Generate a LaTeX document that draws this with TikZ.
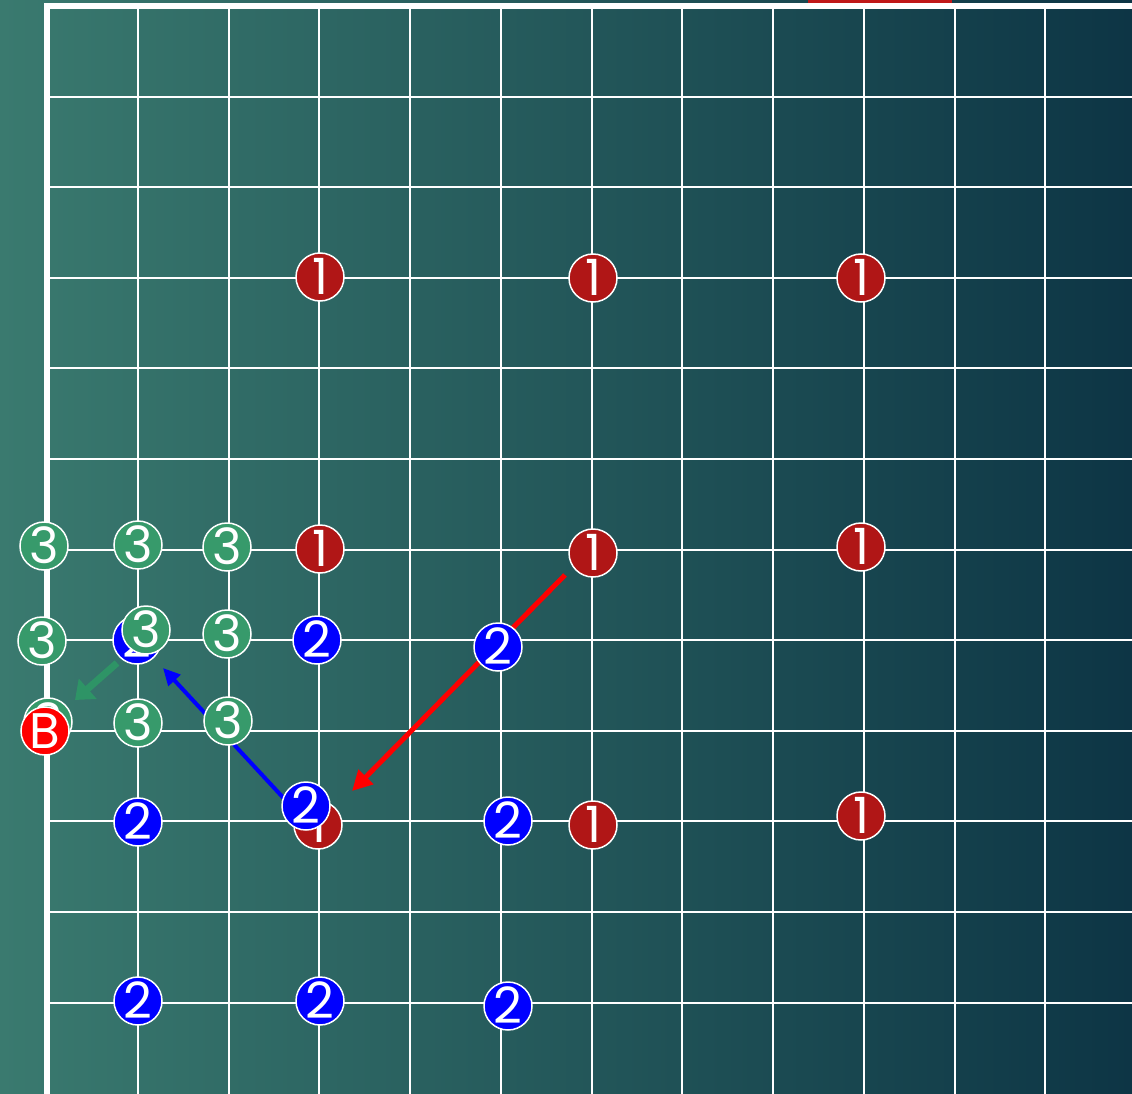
\documentclass[tikz,border=0pt]{standalone}
\usepackage{fontspec}
\setmainfont{Poppins}
\usetikzlibrary{arrows.meta}
\definecolor{bgL}{HTML}{3A7A6F}
\definecolor{bgR}{HTML}{0D3545}
\definecolor{oneC}{HTML}{B01616}
\definecolor{twoC}{HTML}{0000FF}
\definecolor{threeC}{HTML}{379A6B}
\definecolor{bC}{HTML}{FF0000}
\definecolor{barC}{HTML}{C01818}
\definecolor{garrow}{HTML}{2E9466}
\tikzset{
  stone/.style={circle,draw=white,line width=1.5pt,minimum size=48pt,inner sep=0pt,text=white,font=\fontsize{50}{50}\selectfont},
  gridline/.style={white,line width=2pt},
  border/.style={white,line width=5.5pt},
}
\newcommand\stn[4]{\node[stone,fill=#3] (#1) at (#2) {\makebox[0pt]{\raisebox{-.35em}[0pt][0pt]{#4}}};}
\begin{document}
\begin{tikzpicture}[x=1pt,y=-1pt]
\useasboundingbox (0,0) rectangle (1132,1094);
\shade[left color=bgL,right color=bgR] (0,0) rectangle (1132,1094);
% red bar at top
\fill[barC] (808,0) rectangle (952,3.5);
% grid
\foreach \i in {1,...,11} {
  \draw[gridline] ({47+90.75*\i},6) -- ({47+90.75*\i},1094);
  \draw[gridline] (47,{6+90.6*\i}) -- (1132,{6+90.6*\i});
}
\draw[border] (47,1094) -- (47,6) -- (1132,6);
% arrows (under stones)
\coordinate (ra) at (565,575);
\coordinate (rb) at (352,791);
\coordinate (ba) at (290,805);
\coordinate (bb) at (163,668);
\coordinate (ga) at (117,663);
\coordinate (gb) at (75,700);
\draw[bC,line width=5pt,-{Triangle[length=20pt,width=20pt]}] (ra) -- (rb);
\draw[twoC,line width=4pt,-{Triangle[length=17pt,width=16pt]}] (ba) -- (bb);
\draw[garrow,line width=7pt,-{Triangle[length=17pt,width=26pt]}] (ga) -- (gb);
% red 1s
\stn{r1}{320,277}{oneC}{1}
\stn{r2}{593,278}{oneC}{1}
\stn{r3}{861,278}{oneC}{1}
\stn{r4}{320,549}{oneC}{1}
\stn{r5}{593,553}{oneC}{1}
\stn{r6}{861,547}{oneC}{1}
\stn{r7}{318,825}{oneC}{1}
\stn{r8}{593,825}{oneC}{1}
\stn{r9}{861,816}{oneC}{1}
% blue 2s
\stn{b1}{137,640}{twoC}{2}
\stn{b2}{317,640}{twoC}{2}
\stn{b3}{498,647}{twoC}{2}
\stn{b4}{138,822}{twoC}{2}
\stn{b5}{306,806}{twoC}{2}
\stn{b6}{508,821}{twoC}{2}
\stn{b7}{138,1001}{twoC}{2}
\stn{b8}{320,1001}{twoC}{2}
\stn{b9}{508,1006}{twoC}{2}
% green 3s
\stn{g1}{44,546}{threeC}{3}
\stn{g2}{138,545}{threeC}{3}
\stn{g3}{227,547}{threeC}{3}
\stn{g4}{42,641}{threeC}{3}
\stn{g5}{146,630}{threeC}{3}
\stn{g6}{227,634}{threeC}{3}
\stn{g7}{138,723}{threeC}{3}
\stn{g8}{228,721}{threeC}{3}
\stn{g9}{48,722}{threeC}{3}
% B
\stn{bB}{45,731}{bC}{B}
\end{tikzpicture}
\end{document}
